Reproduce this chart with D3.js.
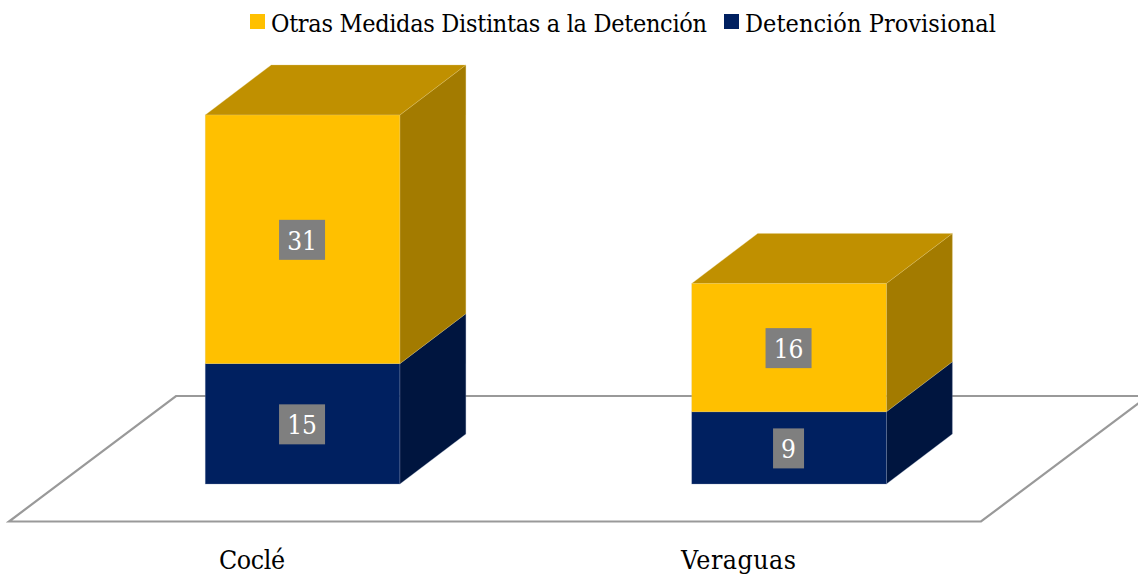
<!DOCTYPE html>
<html><head><meta charset="utf-8">
<script src="https://cdn.jsdelivr.net/npm/d3@7"></script>
<style>html,body{margin:0;padding:0;background:#fff}svg{display:block}text{font-family:"DejaVu Serif Condensed","DejaVu Serif",serif}</style>
</head><body><svg id="c" width="1138" height="576"></svg>
<script>
const categories = ["Coclé", "Veraguas"];
const seriesNames = ["Detención Provisional", "Otras Medidas Distintas a la Detención"];
const detencion = [15, 9];
const otras = [31, 16];
const legendOrder = ["Otras Medidas Distintas a la Detención", "Detención Provisional"];

const W = 1138, H = 576;
const svg = d3.select("#c").attr("viewBox", [0, 0, W, H]);
const FRONT = 521.5, BACK = 396, BASE = 484, TOP = 115;
const x = d3.scaleBand().domain(categories).range([9.3, 982.3]).paddingInner(0.6).paddingOuter(0.3);
const y = d3.scaleLinear().domain([0, 46]).range([BASE, TOP]);
const depthX = 66, depthY = 50, floorDX = 167, frontShift = 50;
const colors = {
  [seriesNames[0]]: {front: "#002060", side: "#00153f", top: "#001a4e", edge: "#8090b0"},
  [seriesNames[1]]: {front: "#ffc000", side: "#a37b00", top: "#c09000", edge: "#e0c878"}
};
const path = pts => "M" + pts.map(p => p.join(",")).join("L") + "Z";

svg.append("path").attr("d", path([[9, FRONT], [981, FRONT], [981 + floorDX, BACK], [9 + floorDX, BACK]]))
  .attr("fill", "#fff").attr("stroke", "#999999").attr("stroke-width", 2.2);

const stack = d3.stack().keys([0, 1]).value((d, k) => [detencion, otras][k][categories.indexOf(d)])(categories);
stack.forEach((layer, k) => {
  const c = colors[seriesNames[k]];
  layer.forEach((s, i) => {
    const x0 = x(categories[i]) + frontShift, x1 = x0 + x.bandwidth();
    const y0 = y(s[0]), y1 = y(s[1]);
    const g = svg.append("g").attr("stroke", c.edge).attr("stroke-width", 0.6).attr("stroke-opacity", 0.5);
    g.append("path").attr("d", path([[x1, y0], [x1 + depthX, y0 - depthY], [x1 + depthX, y1 - depthY], [x1, y1]])).attr("fill", c.side);
    if (k === 1) g.append("path").attr("d", path([[x0, y1], [x1, y1], [x1 + depthX, y1 - depthY], [x0 + depthX, y1 - depthY]])).attr("fill", c.top);
    g.append("rect").attr("x", x0).attr("y", y1).attr("width", x.bandwidth()).attr("height", y0 - y1).attr("fill", c.front);
  });
});
stack.forEach(layer => layer.forEach((s, i) => {
  const cx = x(categories[i]) + frontShift + x.bandwidth() / 2 - 0.5, cy = y((s[0] + s[1]) / 2);
  const v = s[1] - s[0], w = v < 10 ? 31 : 46;
  svg.append("rect").attr("x", cx - w / 2).attr("y", cy - 19.5).attr("width", w).attr("height", 40).attr("fill", "#7f7f7f");
  svg.append("text").attr("x", cx).attr("y", cy + 10.5).attr("text-anchor", "middle").attr("fill", "#fff").attr("font-size", 26).text(v);
}));
const categoryLen = [66, 115];
categories.forEach((cat, i) => {
  svg.append("text").attr("x", x(cat) + x.bandwidth() / 2 - 0.5).attr("y", 569).attr("text-anchor", "middle")
    .attr("fill", "#000").attr("font-size", 26.5).attr("textLength", categoryLen[i]).attr("lengthAdjust", "spacing").text(cat);
});
const legendX = [250, 724], legendColor = {[seriesNames[1]]: "#ffc000", [seriesNames[0]]: "#002060"};
const legendLen = [436, 251];
legendOrder.forEach((n, i) => {
  svg.append("rect").attr("x", legendX[i]).attr("y", 14).attr("width", 15).attr("height", 15).attr("fill", legendColor[n]);
  svg.append("text").attr("x", legendX[i] + 21).attr("y", 31.5).attr("fill", "#000").attr("font-size", 25)
    .attr("textLength", legendLen[i]).attr("lengthAdjust", "spacing").text(n);
});
</script></body></html>
